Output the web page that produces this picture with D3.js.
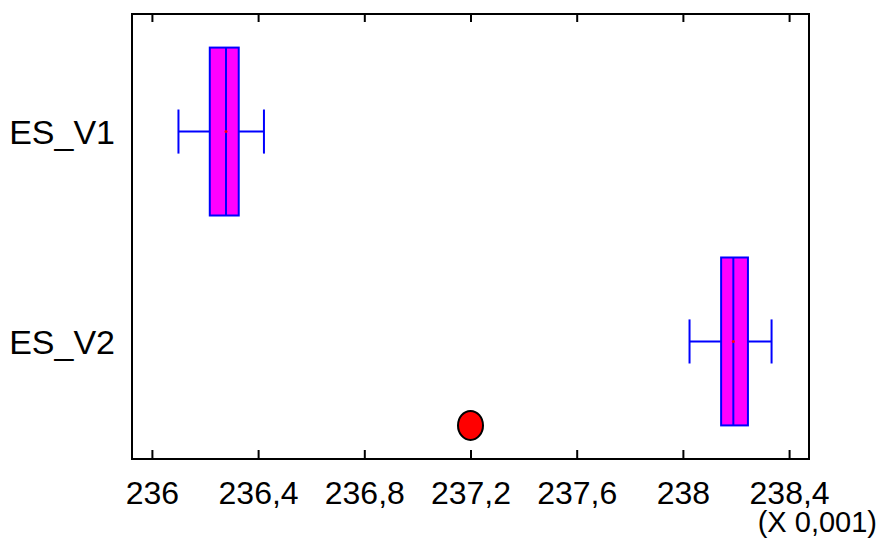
<!DOCTYPE html>
<html>
<head>
<meta charset="utf-8">
<script src="https://cdn.jsdelivr.net/npm/d3@7/dist/d3.min.js"></script>
<style>
  html, body { margin: 0; padding: 0; background: #fff; }
  text { font-family: "Liberation Sans", Arial, sans-serif; fill: #000; }
</style>
</head>
<body>
<div id="chart"></div>
<script>
// box plot values (units of 0.001)
const categories = ['ES_V1', 'ES_V2'];
const whiskerLow = [236.100, 238.025];
const q1 = [236.218, 238.144];
const medians = [236.279, 238.190];
const q3 = [236.327, 238.245];
const whiskerHigh = [236.422, 238.334];
const means = [236.279, 238.190];
// far outlier, drawn on its own row below ES_V2
const outlierValues = [237.2];
const outlierRows = [1.4];
const xTicks = [236, 236.4, 236.8, 237.2, 237.6, 238, 238.4];

const width = 880;
const height = 541;
const margin = { top: 14, right: 71, bottom: 82, left: 132 };

const svg = d3.select('#chart').append('svg')
  .attr('width', width)
  .attr('height', height);

const x = d3.scaleLinear()
  .domain([235.925, 238.475])
  .range([margin.left, width - margin.right]);

const y = d3.scaleLinear()
  .domain([-0.56, 1.56])
  .range([margin.top, height - margin.bottom]);

const locale = d3.formatLocale({ decimal: ',', thousands: '.', grouping: [3], currency: ['', ''] });
const fmt = locale.format('~g');

const boxHalf = y(0.4) - y(0);
const capHalf = y(0.105) - y(0);

// frame
svg.append('rect')
  .attr('x', margin.left)
  .attr('y', margin.top)
  .attr('width', width - margin.left - margin.right)
  .attr('height', height - margin.top - margin.bottom)
  .attr('fill', 'none')
  .attr('stroke', '#000')
  .attr('stroke-width', 2);

// ticks pointing inward, top and bottom
const xAxisBottom = d3.axisBottom(x).tickValues(xTicks).tickSize(-9).tickFormat(fmt);
const gb = svg.append('g')
  .attr('transform', `translate(0,${height - margin.bottom})`)
  .call(xAxisBottom);
gb.select('.domain').remove();
gb.selectAll('.tick line').attr('stroke', '#000').attr('stroke-width', 2);
gb.selectAll('.tick text')
  .attr('font-size', 32)
  .attr('font-family', '"Liberation Sans", Arial, sans-serif')
  .attr('fill', '#000')
  .attr('dy', null)
  .attr('y', 45);

const xAxisTop = d3.axisTop(x).tickValues(xTicks).tickSize(-8).tickFormat('');
const gt = svg.append('g')
  .attr('transform', `translate(0,${margin.top})`)
  .call(xAxisTop);
gt.select('.domain').remove();
gt.selectAll('.tick line').attr('stroke', '#000').attr('stroke-width', 2);

svg.append('text')
  .attr('x', 877)
  .attr('y', 532)
  .attr('text-anchor', 'end')
  .attr('font-size', 29)
  .text('(X 0,001)');

// category labels
svg.selectAll('.cat')
  .data(categories)
  .join('text')
  .attr('class', 'cat')
  .attr('x', margin.left - 17)
  .attr('y', (d, i) => y(i))
  .attr('dy', '0.36em')
  .attr('text-anchor', 'end')
  .attr('font-size', 34)
  .text(d => d);

const rows = categories.map((c, i) => i);
const boxes = svg.selectAll('.box')
  .data(rows)
  .join('g')
  .attr('class', 'box');

// whiskers
boxes.append('line')
  .attr('x1', i => x(whiskerLow[i]))
  .attr('x2', i => x(whiskerHigh[i]))
  .attr('y1', i => y(i))
  .attr('y2', i => y(i))
  .attr('stroke', '#0000ff')
  .attr('stroke-width', 2);

boxes.append('line')
  .attr('x1', i => x(whiskerLow[i]))
  .attr('x2', i => x(whiskerLow[i]))
  .attr('y1', i => y(i) - capHalf)
  .attr('y2', i => y(i) + capHalf)
  .attr('stroke', '#0000ff')
  .attr('stroke-width', 2);

boxes.append('line')
  .attr('x1', i => x(whiskerHigh[i]))
  .attr('x2', i => x(whiskerHigh[i]))
  .attr('y1', i => y(i) - capHalf)
  .attr('y2', i => y(i) + capHalf)
  .attr('stroke', '#0000ff')
  .attr('stroke-width', 2);

// box
boxes.append('rect')
  .attr('x', i => x(q1[i]))
  .attr('width', i => x(q3[i]) - x(q1[i]))
  .attr('y', i => y(i) - boxHalf)
  .attr('height', boxHalf * 2)
  .attr('fill', '#ff00ff')
  .attr('stroke', '#0000ff')
  .attr('stroke-width', 2);

// median
boxes.append('line')
  .attr('x1', i => x(medians[i]))
  .attr('x2', i => x(medians[i]))
  .attr('y1', i => y(i) - boxHalf)
  .attr('y2', i => y(i) + boxHalf)
  .attr('stroke', '#0000ff')
  .attr('stroke-width', 2);

// mean marker
boxes.append('circle')
  .attr('cx', i => x(means[i]))
  .attr('cy', i => y(i))
  .attr('r', 1.5)
  .attr('fill', '#ff0000');

// outlier
svg.selectAll('.outlier')
  .data(outlierValues)
  .join('ellipse')
  .attr('class', 'outlier')
  .attr('cx', d => x(d))
  .attr('cy', (d, i) => y(outlierRows[i]))
  .attr('rx', 12.5)
  .attr('ry', 14.5)
  .attr('fill', '#ff0000')
  .attr('stroke', '#000')
  .attr('stroke-width', 2);
</script>
</body>
</html>
